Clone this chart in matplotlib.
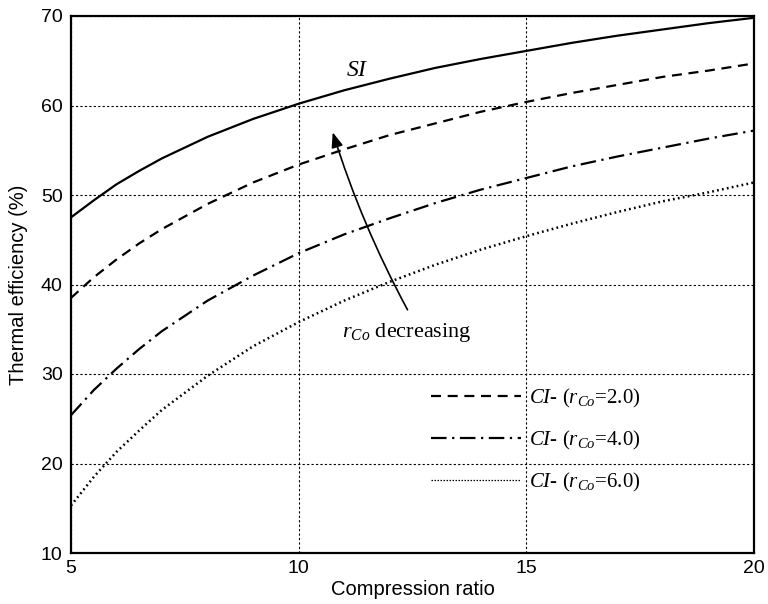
import matplotlib
matplotlib.use("Agg")
import matplotlib.pyplot as plt

# Thermal efficiency (%) versus compression ratio
compression_ratio = [5, 5.5, 6, 6.5, 7, 8, 9, 10, 11, 12, 13, 14, 15, 16, 17, 18, 19, 20]
eff_si = [47.5, 49.4, 51.2, 52.7, 54.1, 56.5, 58.5, 60.2, 61.7, 63.0, 64.2, 65.2, 66.1, 67.0, 67.8, 68.5, 69.2, 69.8]
eff_ci_2 = [38.5, 40.8, 42.8, 44.6, 46.2, 49.0, 51.4, 53.4, 55.1, 56.7, 58.0, 59.3, 60.4, 61.4, 62.3, 63.2, 63.9, 64.7]
eff_ci_4 = [25.4, 28.2, 30.6, 32.8, 34.8, 38.2, 41.0, 43.5, 45.6, 47.4, 49.1, 50.6, 51.9, 53.2, 54.3, 55.3, 56.3, 57.2]
eff_ci_6 = [15.3, 18.5, 21.3, 23.7, 26.0, 29.8, 33.1, 35.8, 38.2, 40.3, 42.2, 43.9, 45.4, 46.8, 48.1, 49.3, 50.3, 51.4]

x_ticks = [5, 10, 15, 20]
y_ticks = [10, 20, 30, 40, 50, 60, 70]
legend_labels = [r"$\mathit{CI}$- ($r_{Co}$=2.0)",
                 r"$\mathit{CI}$- ($r_{Co}$=4.0)",
                 r"$\mathit{CI}$- ($r_{Co}$=6.0)"]

plt.rcParams["font.family"] = ["Liberation Sans", "DejaVu Sans"]
plt.rcParams["mathtext.fontset"] = "custom"
plt.rcParams["mathtext.rm"] = "Liberation Serif"
plt.rcParams["mathtext.it"] = "Liberation Serif:italic"

serif = ["Liberation Serif", "DejaVu Serif"]

fig = plt.figure(figsize=(7.68, 6.04), dpi=100)
ax = fig.add_axes([71 / 768, 1 - 553 / 604, (754 - 71) / 768, (553 - 16) / 604])

ax.plot(compression_ratio, eff_si, color="black", lw=1.6, ls="-")
l2, = ax.plot(compression_ratio, eff_ci_2, color="black", lw=1.6, ls=(0, (4.5, 3.0)))
l4, = ax.plot(compression_ratio, eff_ci_4, color="black", lw=1.6, ls=(0, (7, 2.5, 1, 2.5)))
l6, = ax.plot(compression_ratio, eff_ci_6, color="black", lw=1.8, ls=(0, (0.7, 1.3)))

ax.set_xlim(5, 20)
ax.set_ylim(10, 70)
ax.set_xticks(x_ticks)
ax.set_yticks(y_ticks)
ax.tick_params(length=0, labelsize=14)
ax.tick_params(axis="y", pad=6)
ax.tick_params(axis="x", pad=5)
ax.grid(True, color="black", lw=0.8, ls=(0, (2, 2)))
for s in ax.spines.values():
    s.set_linewidth(1.6)

ax.set_xlabel("Compression ratio", fontsize=14.5, labelpad=2)
ax.set_ylabel("Thermal efficiency (%)", fontsize=14.5, labelpad=9)

ax.text(11.05, 64.0, r"$\mathit{SI}$", fontsize=17, ha="left", va="center")
ax.annotate("", xy=(10.73, 57.3), xytext=(12.42, 36.9),
            arrowprops=dict(arrowstyle="-|>,head_length=0.9,head_width=0.35",
                            color="black", lw=1.2,
                            connectionstyle="arc3,rad=-0.05"))
ax.text(10.95, 34.6, r"$r_{Co}$ decreasing", fontsize=16, ha="left", va="center",
        family=serif)

# legend handles: thinner pattern for the dotted entry
h6 = plt.Line2D([], [], color="black", lw=0.9, ls=(0, (1.2, 1.2)))
leg = ax.legend([l2, l4, h6], legend_labels, loc="upper left",
                bbox_to_anchor=(0.500, 0.345), frameon=False,
                prop=dict(family=serif, size=15),
                handlelength=4.3, handletextpad=0.38, labelspacing=0.92)

fig.savefig("out.png", dpi=100)
